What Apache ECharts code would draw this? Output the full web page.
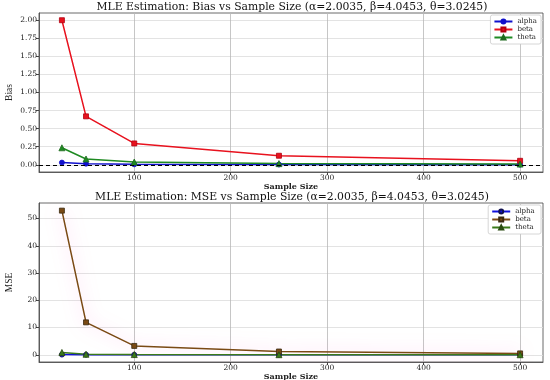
<!DOCTYPE html>
<html><head><meta charset="utf-8">
<script src="https://cdn.jsdelivr.net/npm/echarts@6/dist/echarts.min.js"></script>
<style>html,body{margin:0;padding:0;background:#fff}#c{width:550px;height:380px}</style>
</head><body><div id="c"></div>
<script>
const sampleSizes = [25, 50, 100, 250, 500];
const biasAlpha = [0.030, 0.015, 0.006, 0.003, 0.002];
const biasBeta = [2.00, 0.67, 0.295, 0.125, 0.055];
const biasTheta = [0.235, 0.080, 0.038, 0.016, 0.010];
const mseAlpha = [0.06, 0.03, 0.015, 0.006, 0.003];
const mseBeta = [52.9, 11.9, 3.25, 1.20, 0.50];
const mseTheta = [0.85, 0.20, 0.07, 0.03, 0.015];
const xTicks = [100, 200, 300, 400, 500];
const biasTicks = [0, 0.25, 0.5, 0.75, 1.0, 1.25, 1.5, 1.75, 2.0];
const mseTicks = [0, 10, 20, 30, 40, 50];
const titleBias = 'MLE Estimation: Bias vs Sample Size (α=2.0035, β=4.0453, θ=3.0245)';
const titleMse = 'MLE Estimation: MSE vs Sample Size (α=2.0035, β=4.0453, θ=3.0245)';

const pair = (ys) => sampleSizes.map((x, i) => [x, ys[i]]);
const serif = 'DejaVu Serif';
const tickLabel = {fontFamily: serif, fontSize: 7.5, color: '#222', margin: 2};

function xAxis(gi) {
  return {
    type: 'value', gridIndex: gi, min: 1.25, max: 523.75,
    name: 'Sample Size', nameLocation: 'middle', nameGap: 6,
    nameTextStyle: {fontFamily: serif, fontSize: 8, fontWeight: 'bold', color: '#222'},
    axisLine: {show: true, onZero: false, lineStyle: {color: '#444', width: 0.8}},
    axisTick: {show: true, length: 3, customValues: xTicks, lineStyle: {color: '#444'}},
    axisLabel: Object.assign({customValues: xTicks}, tickLabel),
    splitLine: {show: true, lineStyle: {color: '#b8b8b8', width: 0.8}}
  };
}
function yAxis(gi, min, max, ticks, name, fmt) {
  return {
    type: 'value', gridIndex: gi, min: min, max: max,
    name: name, nameLocation: 'middle', nameGap: 25, nameRotate: 90, nameMoveOverlap: false,
    nameTextStyle: {fontFamily: 'Liberation Sans Narrow', fontSize: 9.5, color: '#222'},
    axisLine: {show: true, lineStyle: {color: '#444', width: 0.8}},
    axisTick: {show: true, length: 3, customValues: ticks, lineStyle: {color: '#444'}},
    axisLabel: Object.assign({customValues: ticks, formatter: fmt}, tickLabel),
    splitLine: {show: true, lineStyle: {color: '#dcdcdc', width: 0.8}}
  };
}
function series(name, data, gi, color, symbol, borderColor, extra) {
  return Object.assign({
    name: name, type: 'line', xAxisIndex: gi, yAxisIndex: gi, data: data,
    symbol: symbol, symbolSize: symbol === 'triangle' ? 6 : 5,
    lineStyle: {color: color, width: 1.5},
    itemStyle: {color: color, borderColor: borderColor, borderWidth: 0.8},
    emphasis: {disabled: true}, animation: false, z: 3
  }, extra || {});
}
const legendCommon = {
  orient: 'vertical', right: 9, itemWidth: 18, itemHeight: 5, itemGap: 1,
  textStyle: {fontFamily: serif, fontSize: 7, color: '#222'},
  backgroundColor: '#fff', borderColor: '#ccc', borderWidth: 0.8, borderRadius: 2,
  padding: [3, 4, 3, 3]
};
const gridCommon = {left: 39, right: 7, height: 159, containLabel: false, outerBoundsMode: 'none',
  show: true, borderColor: '#444', borderWidth: 0.8, backgroundColor: 'transparent'};
const titleStyle = {fontFamily: serif, fontSize: 10.8, lineHeight: 12, fontWeight: 'normal', color: '#111'};

const chart = echarts.init(document.getElementById('c'), null, {renderer: 'canvas'});
chart.setOption({
  animation: false,
  backgroundColor: '#fff',
  title: [
    {text: titleBias, left: 292, textAlign: 'center', top: 1, padding: 0, textStyle: titleStyle},
    {text: titleMse, left: 292, textAlign: 'center', top: 191, padding: 0, textStyle: titleStyle}
  ],
  grid: [
    Object.assign({top: 13}, gridCommon),
    Object.assign({top: 203}, gridCommon)
  ],
  legend: [
    Object.assign({top: 15, data: ['alpha', 'beta', 'theta']}, legendCommon),
    Object.assign({top: 205, data: ['alpha ', 'beta ', 'theta ']}, legendCommon)
  ],
  xAxis: [xAxis(0), xAxis(1)],
  yAxis: [
    yAxis(0, -0.1, 2.1, biasTicks, 'Bias', v => v.toFixed(2)),
    yAxis(1, -2.65, 55.7, mseTicks, 'MSE', v => String(v))
  ],
  series: [
    series('alpha', pair(biasAlpha), 0, '#1010cc', 'circle', '#1010cc', {
      markLine: {silent: true, symbol: 'none', label: {show: false},
        lineStyle: {color: '#000', type: [4, 3], width: 1}, data: [{yAxis: 0}]}
    }),
    series('beta', pair(biasBeta), 0, '#e8121e', 'rect', '#b00010'),
    series('theta', pair(biasTheta), 0, '#1e8a22', 'triangle', '#1e6a1e'),
    series('alpha ', pair(mseAlpha), 1, '#1010dd', 'circle', '#101050'),
    series('beta ', pair(mseBeta), 1, '#7a4a14', 'rect', '#3a2a10', {
      lineStyle: {color: '#7a4a14', width: 1.5, shadowColor: 'rgba(255,110,210,0.6)', shadowBlur: 16}
    }),
    series('theta ', pair(mseTheta), 1, '#3a7a1a', 'triangle', '#2a4a10')
  ]
});
</script></body></html>
